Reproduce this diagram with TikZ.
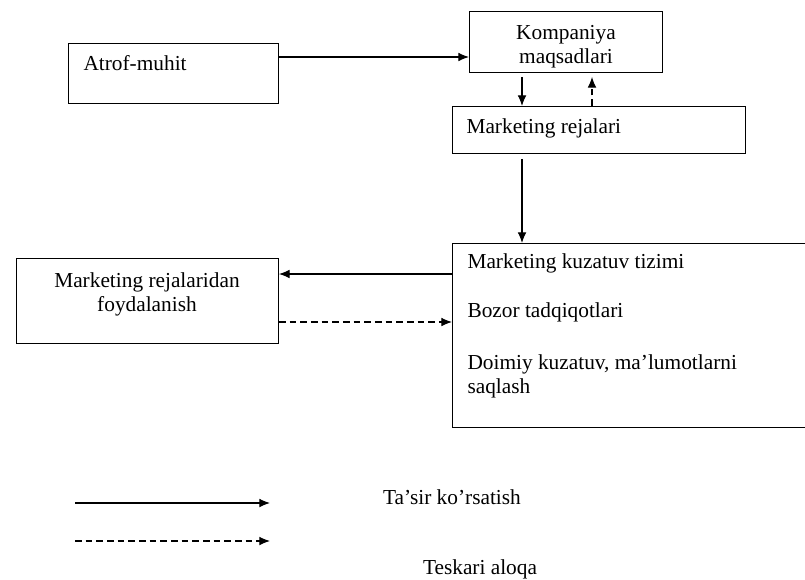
\documentclass[tikz,border=0pt]{standalone}
\usepackage{fontspec}
\setmainfont{Liberation Serif}
\usetikzlibrary{arrows.meta,positioning,calc}

\begin{document}
\begin{tikzpicture}[->, >={Latex[length=8pt,width=6.5pt]}, line width=0.8pt, x=0.75pt, y=-0.75pt, font=\fontsize{16}{18}\selectfont]
\tikzstyle{block}=[draw=black,rectangle,line width=0.7pt,inner sep=0pt,anchor=north west]
\tikzstyle{txt}=[inner sep=0pt,anchor=west,align=left]
\tikzstyle{feedback}=[dash pattern=on 5pt off 3pt]
\useasboundingbox (0,0) rectangle (805,579);

% boxes
\node[block,minimum width=157.5pt,minimum height=45pt]     (1) at (68,43)  {};
\node[block,minimum width=144.75pt,minimum height=45.75pt] (2) at (469,11) {};
\node[block,minimum width=219.75pt,minimum height=35.25pt] (3) at (452,106) {};
\node[block,minimum width=272.25pt,minimum height=138pt]   (4) at (452,243) {};
\node[block,minimum width=196.5pt,minimum height=63.75pt]  (5) at (16,258) {};

% texts
\node[txt]  (t1) at (83,63)  {Atrof-muhit};
\node[inner sep=0pt,align=center] (t2) at (566,47) {Kompaniya\\maqsadlari};
\node[txt]  (t3) at (466,128) {Marketing rejalari};
\node[txt]  (t4a) at (467,263) {Marketing kuzatuv tizimi};
\node[txt]  (t4b) at (467,312) {Bozor tadqiqotlari};
\node[txt]  (t4c) at (467,376) {Doimiy kuzatuv, ma’lumotlarni\\saqlash};
\node[inner sep=0pt,align=center] (t5) at (147,294) {Marketing rejalaridan\\foydalanish};

% connectors
\draw ($(1.north east)+(0,14)$) -- ($(2.north west)+(0,46)$);
\draw ($(2.south west)+(53,4)$) -- ($(3.north west)+(70,0)$);
\draw[feedback] ($(3.north west)+(140,0)$) -- ($(2.south west)+(123,4)$);
\draw ($(3.south west)+(70,5)$) -- ($(4.north west)+(70,0)$);
\draw ($(4.north west)+(0,31)$) -- ($(5.north east)+(0,16)$);
\draw[feedback] ($(5.north east)+(0,64)$) -- ($(4.north west)+(0,79)$);

% legend
\coordinate (l1) at (75,503);
\coordinate (l2) at (270,503);
\coordinate (l3) at (75,541);
\coordinate (l4) at (270,541);
\draw (l1) -- (l2);
\draw[feedback] (l3) -- (l4);
\node[inner sep=0pt] (k1) at (452,497) {Ta’sir ko’rsatish};
\node[inner sep=0pt] (k2) at (480,569) {Teskari aloqa};

\end{tikzpicture}
\end{document}
